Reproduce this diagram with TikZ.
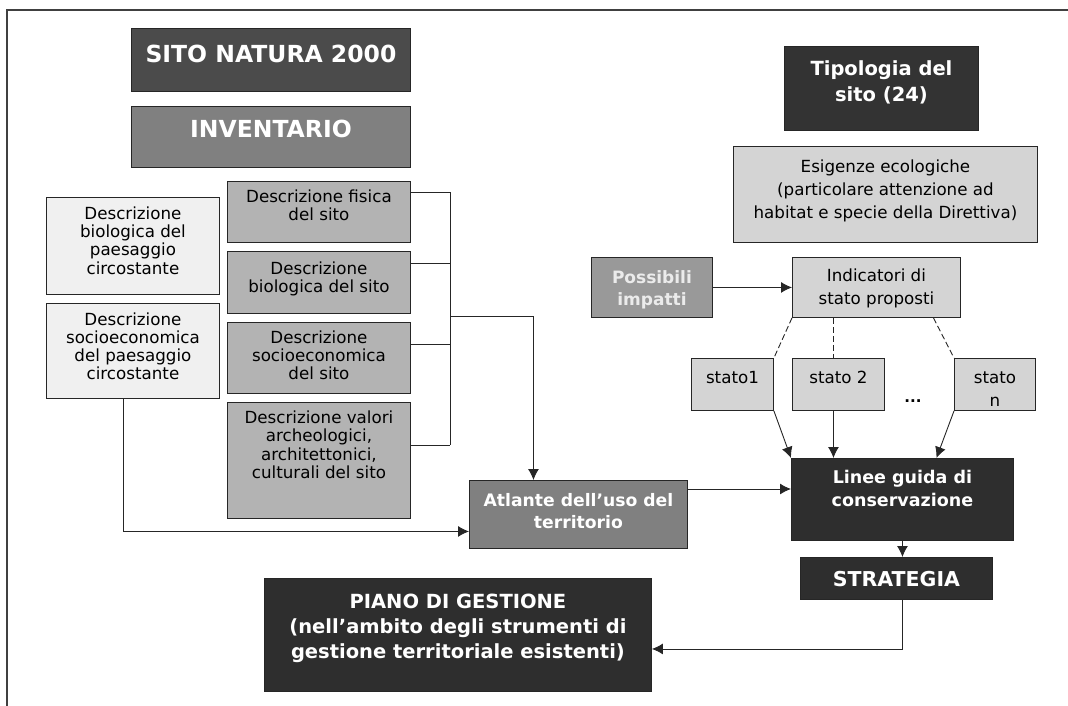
\documentclass[tikz,border=0pt]{standalone}
\usepackage{fontspec}
\setmainfont{DejaVu Sans}
\usetikzlibrary{positioning,arrows.meta}
\definecolor{boxdark}{HTML}{2E2E2E}
\definecolor{boxtipo}{HTML}{333333}
\definecolor{boxsito}{HTML}{4B4B4B}
\definecolor{boxmid}{HTML}{808080}
\definecolor{boximp}{HTML}{999999}
\definecolor{boxdesc}{HTML}{B3B3B3}
\definecolor{boxlight}{HTML}{D4D4D4}
\definecolor{boxpale}{HTML}{F0F0F0}
\begin{document}
\begin{tikzpicture}[x=1pt,y=-1pt,
    box/.style={draw=black!85, line width=0.9pt, anchor=north west, inner sep=0pt},
    txt/.style={inner sep=0pt, align=center, text=black, font=\fontsize{16.7}{#1}\selectfont},
    txt/.default=17.4,
    head/.style 2 args={inner sep=0pt, align=center, text=white, font=\bfseries\fontsize{#1}{#2}\selectfont},
    link/.style={draw=black!85, line width=0.9pt},
    arrow/.style={link, -{Latex[length=11pt,width=11pt]}},
    dashlink/.style={link, dash pattern=on 6pt off 3pt}]
  \useasboundingbox (0,0) rectangle (1068,706);
  \draw[line width=1.2pt, black!75] (7,706) -- (7,10) -- (1068,10);

  % inventario
  \node[box, fill=boxsito, minimum width=279pt, minimum height=63pt] (sito) at (131,28) {};
  \node[head={23.5}{28}, below=17pt of sito.north] (sito-t) {SITO NATURA 2000};
  \node[box, fill=boxmid, minimum width=279pt, minimum height=61pt] (inventario) at (131,106) {};
  \node[head={23.5}{28}, below=14pt of inventario.north] (inventario-t) {INVENTARIO};

  \node[box, fill=boxdesc, minimum width=183pt, minimum height=61pt] (fisica) at (227,181) {};
  \node[txt, below=9pt of fisica.north] (fisica-t) {Descrizione fisica\\del sito};
  \node[box, fill=boxdesc, minimum width=183pt, minimum height=62pt] (biosito) at (227,251) {};
  \node[txt, below=11pt of biosito.north] (biosito-t) {Descrizione\\biologica del sito};
  \node[box, fill=boxdesc, minimum width=183pt, minimum height=71pt] (sociosito) at (227,322) {};
  \node[txt=18.2, below=8.6pt of sociosito.north] (sociosito-t) {Descrizione\\socioeconomica\\del sito};
  \node[box, fill=boxdesc, minimum width=183pt, minimum height=116pt] (valori) at (227,402) {};
  \node[txt=18.6, below=8.3pt of valori.north] (valori-t) {Descrizione valori\\archeologici,\\architettonici,\\culturali del sito};

  \node[box, fill=boxpale, minimum width=173pt, minimum height=97pt] (biopaes) at (46,197) {};
  \node[txt=18.3, below=9.3pt of biopaes.north] (biopaes-t) {Descrizione\\biologica del\\paesaggio\\circostante};
  \node[box, fill=boxpale, minimum width=173pt, minimum height=95pt] (sociopaes) at (46,303) {};
  \node[txt=18, below=10pt of sociopaes.north] (sociopaes-t) {Descrizione\\socioeconomica\\del paesaggio\\circostante};

  \node[box, fill=boxmid, minimum width=218pt, minimum height=68pt] (atlante) at (469,480) {};
  \node[head={17.2}{22}, below=13pt of atlante.north] (atlante-t) {Atlante dell’uso del\\territorio};

  % tipologia
  \node[box, fill=boxtipo, minimum width=194pt, minimum height=84pt] (tipologia) at (784,46) {};
  \node[head={19.5}{26}, below=14pt of tipologia.north] (tipologia-t) {Tipologia del\\sito (24)};
  \node[box, fill=boxlight, minimum width=304pt, minimum height=96pt] (esigenze) at (733,146) {};
  \node[txt=23, below=13.6pt of esigenze.north] (esigenze-t) {Esigenze ecologiche\\(particolare attenzione ad\\habitat e specie della Direttiva)};
  \node[box, fill=boximp, minimum width=121pt, minimum height=60pt] (impatti) at (591,257) {};
  \node[head={17}{22}, text=white!92!black, below=13.4pt of impatti.north] (impatti-t) {Possibili\\impatti};
  \node[box, fill=boxlight, minimum width=168pt, minimum height=60pt] (indicatori) at (792,257) {};
  \node[txt=23, below=12pt of indicatori.north] (indicatori-t) {Indicatori di\\stato proposti};

  \node[box, fill=boxlight, minimum width=82pt, minimum height=52pt] (stato1) at (691,358) {};
  \node[txt, anchor=base] (stato1-t) at ([yshift=-25pt]stato1.north) {stato1};
  \node[box, fill=boxlight, minimum width=92pt, minimum height=52pt] (stato2) at (792,358) {};
  \node[txt, anchor=base] (stato2-t) at ([yshift=-25pt]stato2.north) {stato 2};
  \node[box, fill=boxlight, minimum width=81pt, minimum height=52pt] (staton) at (954,358) {};
  \node[txt=23, below=14pt of staton.north] (staton-t) {stato\\n};
  \node[font=\bfseries\fontsize{15}{18}\selectfont, anchor=base, inner sep=0pt] (dots) at (913,402) {...};

  \node[box, fill=boxdark, minimum width=222pt, minimum height=82pt] (linee) at (791,458) {};
  \node[head={17.5}{23}, below=11.7pt of linee.north] (linee-t) {Linee guida di\\conservazione};
  \node[box, fill=boxdark, minimum width=192pt, minimum height=42pt] (strategia) at (800,557) {};
  \node[head={20.5}{24}, anchor=base] (strategia-t) at ([yshift=-29.3pt]strategia.north) {STRATEGIA};
  \node[box, fill=boxdark, minimum width=387pt, minimum height=113pt] (piano) at (264,578) {};
  \node[head={19.5}{25}, below=16pt of piano.north] (piano-t) {PIANO DI GESTIONE\\(nell’ambito degli strumenti di\\gestione territoriale esistenti)};

  % connettori
  \coordinate (busmid) at (450,316);
  \coordinate (busbot) at (450,445);
  \draw[link] ([yshift=-11pt]fisica.north east) -| (busbot);
  \draw[link] ([yshift=-12pt]biosito.north east) -| (busbot);
  \draw[link] ([yshift=-22pt]sociosito.north east) -| (busbot);
  \draw[link] ([yshift=-43pt]valori.north east) -| (busbot);
  \draw[arrow] (busmid) -| ([xshift=-45pt]atlante.north);
  \draw[arrow] ([xshift=-10pt]sociopaes.south) |- ([yshift=-17pt]atlante.west);
  \coordinate (atl-out) at ([yshift=-9pt]atlante.north east);
  \draw[arrow] (atl-out) -- (atl-out -| linee.west);
  \draw[arrow] (impatti) -- (indicatori);
  \draw[dashlink] (indicatori.south west) -- (stato1.north east);
  \draw[dashlink] ([xshift=-43pt]indicatori.south) -- ([xshift=-5pt]stato2.north);
  \draw[dashlink] ([xshift=57pt]indicatori.south) -- (staton.north west);
  \draw[arrow] (stato1.south east) -- (linee.north west);
  \draw[arrow] ([xshift=-5pt]stato2.south) -- ([xshift=-5pt]stato2.south |- linee.north);
  \draw[arrow] (staton.south west) -- ([xshift=34pt]linee.north);
  \draw[arrow] (linee.south) -- (linee.south |- strategia.north);
  \draw[arrow] (strategia.south -| linee.south) |- ([yshift=-14pt]piano.east);
\end{tikzpicture}
\end{document}
